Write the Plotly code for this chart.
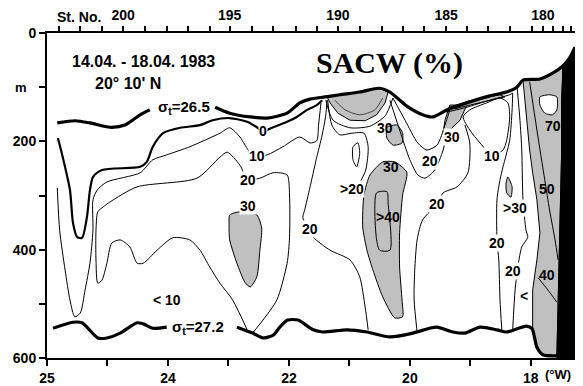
import plotly.graph_objects as go

# ---------------- axis data ----------------
lon_ticks = [26, 25, 24, 23, 22, 21, 20, 19, 18]
lon_ticktext = ["25", "", "24", "", "22", "", "20", "", "18"]
depth_ticks = [0, 100, 200, 300, 400, 500, 600]
depth_ticktext = ["0", "", "200", "", "400", "", "600"]

station_no = list(range(203, 176, -1))
station_lon = [25.80, 25.45, 25.09, 24.74, 24.38, 24.02, 23.67, 23.31, 22.98, 22.61,
               22.26, 21.88, 21.54, 21.19, 20.83, 20.46, 20.12, 19.77, 19.40, 19.06,
               18.71, 18.35, 17.98, 17.80, 17.64, 17.47, 17.34]
station_labelled = [200, 195, 190, 185, 180]

# ---------------- isopycnals (thick) ----------------
s265_a_lon = [25.83, 25.54, 25.29, 24.96, 24.71, 24.46, 24.30]
s265_a_dep = [166, 162, 166, 174, 170, 151, 142]
s265_b_lon = [23.22, 22.98, 22.64, 22.36, 22.03, 21.82, 21.65, 21.40, 21.16, 20.83, 20.50,
              20.33, 20.05, 19.79, 19.62, 19.39, 19.06, 18.68, 18.40, 18.23, 18.13, 17.85,
              17.64, 17.47, 17.36, 17.27]
s265_b_dep = [137, 148, 155, 157, 148, 129, 122, 118, 114, 109, 102,
              109, 135, 151, 155, 142, 129, 116, 109, 100, 87, 85,
              74, 61, 46, 26]

s272_a_lon = [25.90, 25.57, 25.42, 25.16, 25.01, 24.79, 24.51, 24.41, 24.25, 24.02]
s272_a_dep = [545, 534, 535, 563, 563, 554, 535, 537, 545, 543]
s272_b_lon = [22.86, 22.60, 22.43, 22.26, 22.15, 22.02, 21.85, 21.60, 21.44, 21.04, 20.71,
              20.33, 19.95, 19.67, 19.55, 19.29, 19.09, 18.84, 18.56, 18.40, 18.07, 17.98,
              17.90, 17.80, 17.57]
s272_b_dep = [543, 554, 563, 558, 543, 530, 530, 548, 552, 548, 552,
              561, 554, 545, 543, 552, 554, 543, 548, 552, 541, 546,
              580, 594, 596]

# ---------------- SACW isolines ----------------
c0_lon = [25.82, 25.74, 25.62, 25.57, 25.50, 25.42, 25.34, 25.29, 25.24, 25.09, 24.46, 24.35,
          24.25, 24.08, 23.80, 23.47, 23.26, 22.98, 22.69, 22.53, 22.43, 22.26, 22.03, 21.87,
          21.70, 21.54, 21.45]
c0_dep = [194, 229, 290, 351, 377, 378, 340, 290, 266, 253, 247, 238,
          210, 185, 175, 170, 161, 157, 164, 174, 181, 174, 164, 155,
          142, 133, 124]

c10_lon = [25.83, 25.79, 25.70, 25.62, 25.54, 25.45, 25.37, 25.29, 25.24, 25.24, 25.17, 25.01,
           24.46, 24.25, 24.02, 23.64, 23.14, 22.98, 22.81, 22.64, 22.53, 22.36, 22.10, 21.82,
           21.65, 21.54, 21.51, 21.47]
c10_dep = [286, 365, 438, 493, 524, 517, 474, 425, 364, 308, 290, 275,
           258, 234, 225, 210, 185, 175, 192, 221, 227, 225, 210, 192,
           203, 199, 170, 129]

c20_lon = [22.69, 22.93, 23.14, 23.31, 23.47, 23.64, 23.92, 24.18, 24.41, 24.51, 24.63, 24.79,
           24.93, 25.01, 25.09, 25.16, 25.19, 25.19, 25.16, 25.07, 24.96, 24.51, 23.52, 23.14,
           23.02, 22.81, 22.68, 22.48, 22.26, 22.03, 21.99, 21.99, 22.03, 22.20, 22.43, 22.60]
c20_dep = [548, 493, 462, 432, 401, 382, 378, 401, 425, 425, 395, 382,
           388, 425, 456, 462, 419, 364, 330, 321, 312, 284, 268, 229,
           220, 244, 271, 268, 258, 262, 299, 377, 425, 493, 530, 554]

mid20_lon = [21.37, 21.39, 21.45, 21.55, 21.65, 21.74, 21.77, 21.70, 21.60, 21.32, 20.99,
             20.83, 20.74, 20.69]
mid20_dep = [124, 151, 188, 234, 284, 327, 340, 360, 377, 401, 419, 450, 506, 548]

gt20_lon = [21.36, 21.29, 21.16, 20.96, 20.76, 20.69, 20.73, 20.83]
gt20_dep = [124, 170, 188, 185, 185, 210, 253, 277]
gt20_loop_lon = [20.94, 20.86, 20.83, 20.88, 20.94, 20.94]
gt20_loop_dep = [210, 203, 222, 247, 234, 210]

wedge_outline_lon = [21.39, 21.27, 20.99, 20.66, 20.41, 20.28]
wedge_outline_dep = [124, 161, 175, 172, 153, 120]
wedge_inner_lon = [21.24, 21.07, 20.83, 20.58, 20.45]
wedge_inner_dep = [124, 142, 151, 142, 120]

inner_v_lon = [20.28, 20.08, 19.87, 19.72, 19.55, 19.42, 19.34]
inner_v_dep = [120, 161, 203, 216, 207, 170, 142]
outer_v_lon = [20.33, 20.17, 20.00, 19.87, 19.75, 19.59, 19.45, 19.39]
outer_v_dep = [124, 179, 234, 262, 268, 253, 216, 179]

loop10_lon = [19.12, 19.01, 18.84, 18.64, 18.46, 18.40, 18.35, 18.38, 18.51, 18.73, 19.01, 19.12]
loop10_dep = [155, 179, 203, 225, 216, 198, 155, 129, 120, 129, 142, 155]

top_line_lon = [19.39, 19.09, 18.68, 18.35, 18.30]
top_line_dep = [146, 138, 124, 114, 111]

l20a_lon = [19.09, 19.01, 19.04, 19.22, 19.45, 19.55, 19.79, 19.88, 19.92, 19.93, 19.88]
l20a_dep = [170, 203, 258, 284, 295, 316, 345, 382, 438, 493, 552]

l20b_lon = [18.30, 18.31, 18.35, 18.46, 18.51, 18.56, 18.56, 18.53, 18.51, 18.48]
l20b_dep = [111, 142, 198, 247, 271, 308, 382, 419, 493, 548]

lr1_lon = [18.23, 18.18, 18.15, 18.13, 18.08, 18.05, 18.15, 18.21, 18.26, 18.30]
lr1_dep = [96, 161, 216, 308, 364, 377, 395, 428, 474, 548]

band50_lon = [18.02, 17.90, 17.77, 17.69, 17.60, 17.55]
band50_dep = [90, 179, 271, 327, 382, 419]
band40_lon = [17.88, 17.72, 17.57]
band40_dep = [452, 474, 497]

# ---------------- shaded (>30 %) areas ----------------
blob30_left_lon = [22.98, 22.81, 22.53, 22.45, 22.48, 22.53, 22.64, 22.73, 22.86, 22.98, 22.99, 22.98]
blob30_left_dep = [336, 330, 336, 360, 401, 450, 469, 460, 425, 382, 351, 336]

wedge_lon = [21.37, 21.16, 20.83, 20.50, 20.36, 20.41, 20.55, 20.74, 20.99, 21.19, 21.32, 21.37]
wedge_dep = [118, 114, 109, 102, 109, 129, 151, 162, 161, 148, 129, 118]

small30_lon = [20.38, 20.21, 20.12, 20.13, 20.28, 20.38, 20.38]
small30_dep = [174, 170, 185, 203, 207, 194, 174]

blob40_lon = [20.45, 20.25, 20.05, 20.12, 20.17, 20.17, 20.13, 20.12, 20.25, 20.45, 20.61,
              20.71, 20.78, 20.76, 20.66, 20.45]
blob40_dep = [238, 238, 257, 299, 369, 432, 493, 524, 526, 487, 438,
              401, 358, 299, 262, 238]
inner40_lon = [20.55, 20.38, 20.36, 20.33, 20.50, 20.55, 20.58, 20.55]
inner40_dep = [295, 293, 314, 401, 401, 382, 327, 295]

wedge2_lon = [19.34, 19.06, 19.17, 19.34, 19.45, 19.42, 19.34]
wedge2_dep = [133, 133, 161, 179, 183, 161, 133]
strip_lon = [19.34, 19.01, 18.51, 18.43, 18.93, 19.26, 19.34]
strip_dep = [137, 125, 114, 118, 131, 140, 137]

gt30_lon = [18.38, 18.31, 18.33, 18.40, 18.41, 18.38]
gt30_dep = [266, 284, 303, 295, 277, 266]

band_lon = [18.13, 18.07, 18.02, 17.97, 17.90, 17.85, 17.90, 17.97, 17.97, 17.90, 17.80,
            17.57, 17.55, 17.52, 17.49, 17.49, 17.47, 17.64, 17.85, 18.13]
band_dep = [87, 166, 216, 258, 308, 369, 419, 474, 543, 580, 594,
            596, 493, 364, 216, 124, 63, 74, 85, 87]
band70_lon = [17.85, 17.69, 17.57, 17.57, 17.64, 17.77, 17.85, 17.85]
band70_dep = [118, 114, 118, 142, 151, 148, 133, 118]

# ---------------- sea floor ----------------
floor_lon = [17.27, 17.36, 17.47, 17.49, 17.49, 17.52, 17.55, 17.57, 17.27, 17.27]
floor_dep = [26, 44, 63, 124, 216, 364, 493, 600, 600, 26]

# ---------------- isoline labels ----------------
lab_white_text = ["0", "10", "20", "30", "20", "30", "10", ">20", "20", "20", ">30",
                  "20", "20", "<", "< 10"]
lab_white_lon = [22.43, 22.53, 22.68, 22.68, 19.67, 19.31, 18.64, 20.96, 21.65, 19.55, 18.26,
                 18.56, 18.30, 18.12, 24.02]
lab_white_dep = [181, 227, 271, 319, 236, 192, 227, 288, 362, 316, 323,
                 388, 439, 486, 493]
lab_gray_text = ["30", "70", "30", ">40", "50", "40"]
lab_gray_lon = [20.41, 17.64, 20.31, 20.36, 17.74, 17.74]
lab_gray_dep = [175, 172, 247, 340, 288, 447]

GRAY = "#c0c0c0"
SANS = "Liberation Sans, Arial, sans-serif"
SERIF = "Liberation Serif, Times New Roman, serif"

fig = go.Figure()


def fill(lon, dep, color=GRAY, lw=1, smooth=True):
    shp = dict(shape="spline", smoothing=0.6) if smooth else dict(shape="linear")
    fig.add_trace(go.Scatter(x=lon, y=dep, mode="lines", fill="toself", fillcolor=color,
                             line=dict(color="black", width=lw, **shp),
                             hoverinfo="skip", showlegend=False))


def line(lon, dep, lw=1, color="black"):
    fig.add_trace(go.Scatter(x=lon, y=dep, mode="lines",
                             line=dict(color=color, width=lw, shape="spline", smoothing=0.7),
                             hoverinfo="skip", showlegend=False))


# shaded areas
fill(band_lon, band_dep, smooth=False)
fill(band70_lon, band70_dep, color="white")
fill(blob30_left_lon, blob30_left_dep)
fill(wedge_lon, wedge_dep, smooth=False)
fill(small30_lon, small30_dep)
fill(blob40_lon, blob40_dep)
fill(wedge2_lon, wedge2_dep, smooth=False)
fill(strip_lon, strip_dep, smooth=False)
fill(gt30_lon, gt30_dep)

# isolines
line(inner40_lon, inner40_dep)
line(c10_lon, c10_dep)
line(c20_lon, c20_dep)
line(mid20_lon, mid20_dep)
line(gt20_lon, gt20_dep)
line(gt20_loop_lon, gt20_loop_dep)
line(wedge_outline_lon, wedge_outline_dep)
line(wedge_inner_lon, wedge_inner_dep, color="#404040")
line(inner_v_lon, inner_v_dep)
line(outer_v_lon, outer_v_dep)
line(loop10_lon, loop10_dep)
line(top_line_lon, top_line_dep)
line(l20a_lon, l20a_dep)
line(l20b_lon, l20b_dep)
line(lr1_lon, lr1_dep)
line(band50_lon, band50_dep)
line(band40_lon, band40_dep)
line(c0_lon, c0_dep, lw=2.2)

# sea floor
fig.add_trace(go.Scatter(x=floor_lon, y=floor_dep, mode="lines", fill="toself", fillcolor="black",
                         line=dict(color="black", width=1), hoverinfo="skip", showlegend=False))

# isopycnals
for lo, de in [(s265_a_lon, s265_a_dep), (s265_b_lon, s265_b_dep),
               (s272_a_lon, s272_a_dep), (s272_b_lon, s272_b_dep)]:
    line(lo, de, lw=3.2)

# station axis carrier
fig.add_trace(go.Scatter(x=station_lon, y=[0] * len(station_lon), xaxis="x2", mode="markers",
                         marker=dict(opacity=0), hoverinfo="skip", showlegend=False))

ann = []
lab_font = dict(family=SANS, size=14, color="black", weight="bold")
for t, x, y in zip(lab_white_text, lab_white_lon, lab_white_dep):
    ann.append(dict(x=x, y=y, xref="x", yref="y", text=t, showarrow=False, font=lab_font,
                    bgcolor="white", borderpad=0))
for t, x, y in zip(lab_gray_text, lab_gray_lon, lab_gray_dep):
    ann.append(dict(x=x, y=y, xref="x", yref="y", text=t, showarrow=False, font=lab_font))

txt_font = dict(family=SANS, size=16, color="black", weight="bold")
ann += [
    dict(x=24.20, y=137, xref="x", yref="y", xanchor="left", yanchor="middle",
         text="σ<sub>t</sub>=26.5", showarrow=False,
         font=dict(family=SANS, size=15, color="black", weight="bold")),
    dict(x=23.97, y=544, xref="x", yref="y", xanchor="left", yanchor="middle",
         text="σ<sub>t</sub>=27.2", showarrow=False,
         font=dict(family=SANS, size=15, color="black", weight="bold")),
    dict(x=25.62, y=52, xref="x", yref="y", xanchor="left", yanchor="middle",
         text="14.04. - 18.04. 1983", showarrow=False, font=txt_font),
    dict(x=25.24, y=94, xref="x", yref="y", xanchor="left", yanchor="middle",
         text="20° 10' N", showarrow=False, font=txt_font),
    dict(x=20.33, y=55, xref="x", yref="y", yanchor="middle", text="SACW (%)",
         showarrow=False, font=dict(family=SERIF, size=30, color="black", weight="bold")),
    dict(x=25.07, y=1.049, xref="x", yref="paper", xanchor="right", yanchor="middle",
         text="St. No.", showarrow=False,
         font=dict(family=SANS, size=14, color="black", weight="bold")),
    dict(x=-0.049, y=100, xref="paper", yref="y", xanchor="center", yanchor="middle",
         text="m", showarrow=False,
         font=dict(family=SANS, size=13, color="black", weight="bold")),
    dict(x=17.80, y=-0.052, xref="x", yref="paper", xanchor="left", yanchor="middle",
         text="(°W)", showarrow=False,
         font=dict(family=SANS, size=13, color="black", weight="bold")),
]

tick_font = dict(family=SANS, size=14, color="black", weight="bold")
# the page body adds an 8 px margin: the figure is sized so that the plot area
# lands on the same pixels as the reference
fig.update_layout(
    width=575, height=378,
    margin=dict(l=39, r=8, t=25, b=28, autoexpand=False),
    paper_bgcolor="white", plot_bgcolor="white",
    showlegend=False,
    xaxis=dict(range=[26, 17.27], tickvals=lon_ticks, ticktext=lon_ticktext,
               ticks="outside", ticklen=6, tickwidth=2, tickcolor="black",
               showline=True, linewidth=2, linecolor="black", automargin=False,
               showgrid=False, zeroline=False, tickfont=tick_font),
    xaxis2=dict(overlaying="x", side="top", range=[26, 17.27], tickvals=station_lon,
                ticktext=[str(s) if s in station_labelled else "" for s in station_no],
                ticks="outside", ticklen=5, tickwidth=1.5, tickcolor="black",
                showline=True, linewidth=2, linecolor="black", automargin=False,
                showgrid=False, zeroline=False, tickfont=tick_font),
    yaxis=dict(range=[600, 0], tickvals=depth_ticks, ticktext=depth_ticktext,
               ticks="outside", ticklen=6, tickwidth=2, tickcolor="black",
               showline=True, linewidth=2, linecolor="black", mirror=True, automargin=False,
               showgrid=False, zeroline=False, tickfont=tick_font),
    annotations=ann,
)

fig.write_html("out.html")
